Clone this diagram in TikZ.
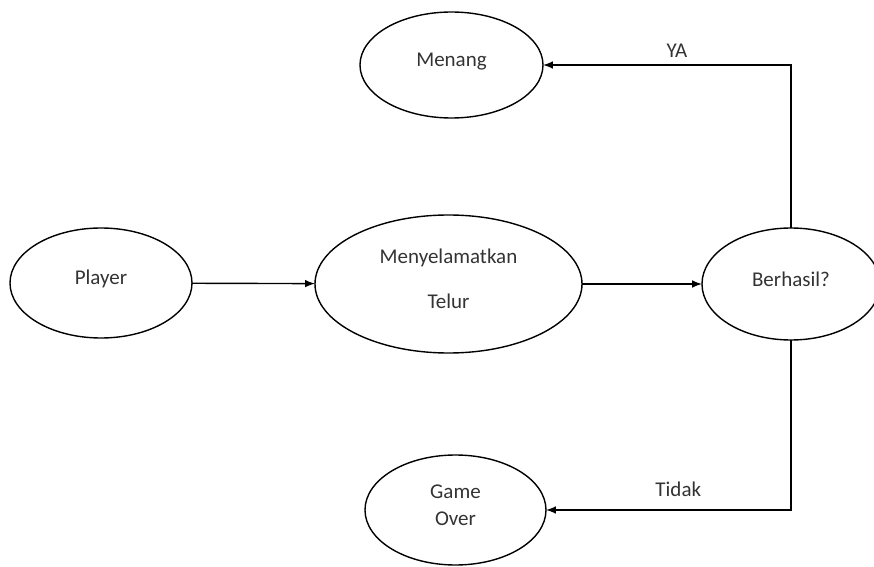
\documentclass[tikz,border=0pt]{standalone}
\usepackage{fontspec}
\setmainfont{Carlito}
\usetikzlibrary{shapes.geometric}
\begin{document}
\begin{tikzpicture}[x=0.5pt, y=-0.5pt, >=latex, line width=0.7pt,
    ell/.style={ellipse, draw, inner sep=0pt, outer sep=0pt, align=center, text=black!80, font=\fontsize{10.5}{13.5}\selectfont},
    oneline/.style={text height=9pt, text depth=7pt},
    lbl/.style={text=black!80, font=\fontsize{10.5}{13.5}\selectfont}]
    \useasboundingbox (0,0) rectangle (874,567);
    \node[ell, oneline, minimum width=91pt, minimum height=55pt] (player) at (101,283) {Player};
    \node[ell, text height=26pt, text depth=2pt, minimum width=133.5pt, minimum height=69pt] (selamat) at (448.5,284) {Menyelamatkan\\[9pt]Telur};
    \node[ell, oneline, minimum width=89pt, minimum height=56pt] (berhasil) at (791,284) {Berhasil?};
    \node[ell, oneline, minimum width=91.5pt, minimum height=53pt] (menang) at (451.5,65) {Menang};
    \node[ell, text height=17pt, text depth=2pt, minimum width=90.5pt, minimum height=55pt] (gameover) at (455.5,510) {Game\\Over};
    \draw[->] (player) -- (selamat);
    \draw[->] (selamat) -- (berhasil);
    \draw[->] (berhasil.north) |- node[lbl, pos=0.73, above] {YA} (menang.east);
    \draw[->] (berhasil.south) |- node[lbl, pos=0.73, above=3pt] {Tidak} (gameover.east);
\end{tikzpicture}
\end{document}
